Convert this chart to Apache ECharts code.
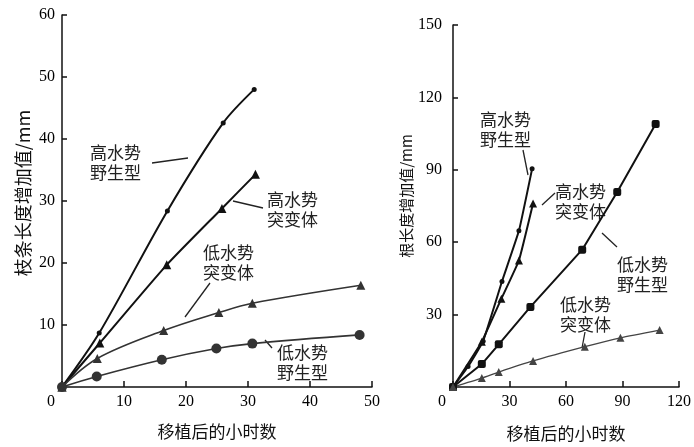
<!DOCTYPE html>
<html><head><meta charset="utf-8">
<script src="https://cdn.jsdelivr.net/npm/echarts@6/dist/echarts.min.js"></script>
<style>html,body{margin:0;padding:0;background:#fff}#c{width:694px;height:447px}</style>
</head><body><div id="c"></div>
<script>
// Left panel: shoot length increase (mm) vs hours after transplant
const leftXTicks = [0, 10, 20, 30, 40, 50];
const leftYTicks = [0, 10, 20, 30, 40, 50, 60];
const leftHighWild = [[0,0],[6,8.7],[17,28.4],[26,42.6],[31,48]];
const leftHighMut  = [[0,0],[6.1,7.1],[16.9,19.7],[25.8,28.8],[31.2,34.3]];
const leftLowMut   = [[0,0],[5.7,4.6],[16.4,9.1],[25.3,12],[30.7,13.5],[48.2,16.4]];
const leftLowWild  = [[0,0],[5.6,1.7],[16.1,4.4],[24.9,6.2],[30.7,7.0],[48,8.4]];
// Right panel: root length increase (mm) vs hours after transplant
const rightXTicks = [0, 30, 60, 90, 120];
const rightYTicks = [0, 30, 60, 90, 120, 150];
const rightHighWild = [[0,0],[8,8.5],[16,19],[26,43.7],[35,64.7],[42,90.4]];
const rightHighMut  = [[0,0],[15.3,18.8],[25.7,36.6],[35,52.4],[42.5,76]];
const rightLowWild  = [[0,0],[15.3,9.5],[24.3,17.7],[41.1,33.2],[68.6,56.9],[87.2,80.8],[107.6,109]];
const rightLowMut   = [[0,0],[15.3,3.7],[24.3,6.2],[42.5,10.8],[70,16.7],[88.9,20.4],[109.7,23.6]];
const labels = ['高水势\n野生型','高水势\n突变体','低水势\n突变体','低水势\n野生型'];
const leftYName = '枝条长度增加值/mm';
const rightYName = '根长度增加值/mm';
const xName = '移植后的小时数';

const numFont = {fontFamily:'Liberation Serif', fontSize:16, color:'#000'};
const cjk = 'Noto Sans CJK SC';
function xAxis(gi, max, step, gap){
  return {gridIndex:gi, type:'value', min:0, max:max, interval:step,
    axisLine:{show:true, onZero:false, lineStyle:{color:'#111', width:1.5}},
    axisTick:{show:true, inside:true, length:6, lineStyle:{color:'#111', width:1.5}},
    splitLine:{show:false},
    axisLabel:Object.assign({margin:7, formatter:v=> v===0 ? '{z|0}' : String(v),
      rich:{z:{fontFamily:'Liberation Serif', fontSize:16, color:'#000', padding:[0,22,0,0]}}}, numFont),
    name:xName, nameLocation:'middle', nameGap:gap,
    nameTextStyle:{fontFamily:cjk, fontSize:17, color:'#111'}};
}
function yAxis(gi, max, step, name, gap, margin, fs, shift){
  return {gridIndex:gi, type:'value', min:0, max:max, interval:step,
    axisLine:{show:true, onZero:false, lineStyle:{color:'#111', width:1.5}},
    axisTick:{show:true, inside:true, length:5, lineStyle:{color:'#111', width:1.5}},
    splitLine:{show:false},
    axisLabel:Object.assign({margin:margin, showMinLabel:false}, numFont),
    name:name, nameLocation:'middle', nameGap:gap, nameRotate:90,
    nameTextStyle:{fontFamily:cjk, fontSize:fs, color:'#111', padding:[0,0,0,shift]}};
}
function s(xi, data, sym, size, color, width, smooth){
  return {type:'line', xAxisIndex:xi, yAxisIndex:xi, data:data, symbol:sym, symbolSize:size,
    smooth:smooth, showSymbol:true, silent:true, animation:false,
    lineStyle:{color:color, width:width}, itemStyle:{color:color}};
}
const leader = [
  [152,163,188,158],[233,201,263,208],[210,283,185,317],[265,340,272,348],
  [523,150,528,175],[542,205,555,193],[602,233,617,247],[582,348,585,332]
];
const textPos = [
  [0,90,143],[1,267,190],[2,203,243],[3,277,343],
  [0,480,110],[1,555,182],[3,617,255],[2,560,295]
];
const graphics = [];
leader.forEach(l=>graphics.push({type:'line', shape:{x1:l[0],y1:l[1],x2:l[2],y2:l[3]}, style:{stroke:'#222', lineWidth:1.3}, silent:true}));
textPos.forEach(t=>graphics.push({type:'text', left:t[1], top:t[2], style:{text:labels[t[0]], font:'17px "Noto Sans CJK SC"', fill:'#222', lineHeight:20}, silent:true}));

const chart = echarts.init(document.getElementById('c'), null, {renderer:'canvas'});
chart.setOption({
  backgroundColor:'#fff',
  animation:false,
  grid:[{left:62, top:15, width:310, height:372},
        {left:453, top:25, width:232, height:364}],
  xAxis:[xAxis(0, 50, 10, 36), xAxis(1, 120, 30, 38)],
  yAxis:[yAxis(0, 60, 10, leftYName, 30, 7, 18, 16), yAxis(1, 150, 30, rightYName, 35, 11, 15, 20)],
  series:[
    s(0, leftHighWild, 'circle', 5, '#111', 2, 0.3),
    s(0, leftHighMut, 'triangle', 9, '#111', 2, 0.2),
    s(0, leftLowMut, 'triangle', 9, '#333', 1.6, 0.35),
    s(0, leftLowWild, 'circle', 10, '#333', 1.6, 0.35),
    s(1, rightHighWild, 'circle', 5, '#111', 2, 0.1),
    s(1, rightHighMut, 'triangle', 8, '#111', 2, 0.1),
    s(1, rightLowWild, 'roundRect', 8, '#111', 2, false),
    s(1, rightLowMut, 'triangle', 8, '#444', 1.3, 0.2)
  ],
  graphic:graphics
});
</script></body></html>
